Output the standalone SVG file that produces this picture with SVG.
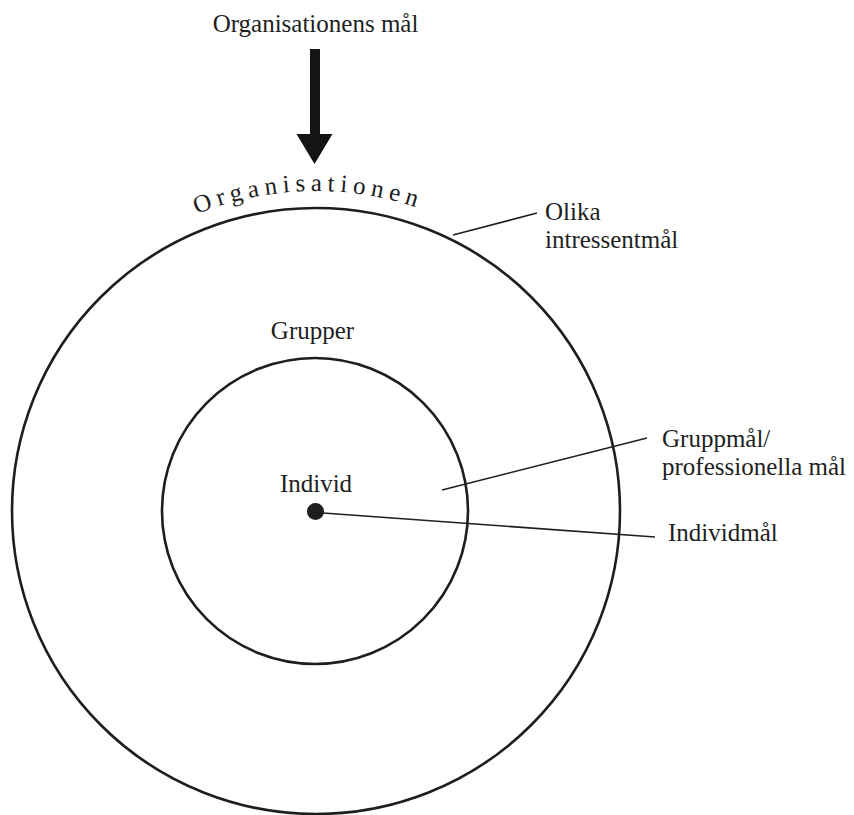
<svg xmlns="http://www.w3.org/2000/svg" width="854" height="815" viewBox="0 0 854 815">
  <defs>
    <style>
      .lbl { font-family: "Liberation Serif", "Times New Roman", serif; font-size: 25px; fill: #1e1e1e; }
      .ring { fill: none; stroke: #1e1e1e; stroke-width: 2.6; }
      .lead { fill: none; stroke: #1e1e1e; stroke-width: 1.6; }
    </style>
    <path id="orgArc" d="M -4 511 A 320 320 0 0 1 636 511"/>
  </defs>
  <rect width="854" height="815" fill="#ffffff"/>

  <g id="title">
    <text class="lbl" x="315.5" y="32" text-anchor="middle" font-size="26">Organisationens mål</text>
  </g>

  <g id="arrow">
    <polygon points="310,49 320,49 320,134 332.5,134 314.5,164 296.5,134 310,134" fill="#141414"/>
  </g>

  <g id="organisationen">
    <ellipse class="ring" cx="316" cy="511" rx="304" ry="303"/>
    <text class="lbl" font-size="23" letter-spacing="5.5"><textPath href="#orgArc" startOffset="380">Organisationen</textPath></text>
  </g>

  <g id="grupper">
    <circle class="ring" cx="315" cy="511" r="153"/>
    <text class="lbl" x="312.5" y="339" text-anchor="middle" font-size="26.5">Grupper</text>
  </g>

  <g id="individ">
    <circle cx="315.5" cy="511.5" r="8.5" fill="#1e1e1e"/>
    <text class="lbl" x="316" y="492" text-anchor="middle">Individ</text>
  </g>

  <g id="connectors">
    <line class="lead" x1="453" y1="235" x2="537" y2="213"/>
    <line class="lead" x1="442" y1="490" x2="647" y2="438"/>
    <line class="lead" x1="323" y1="513" x2="655" y2="537"/>
  </g>

  <g id="olika-intressentmal">
    <text class="lbl" x="545" y="220">Olika</text>
    <text class="lbl" x="545" y="248">intressentmål</text>
  </g>

  <g id="gruppmal">
    <text class="lbl" x="662" y="447">Gruppmål/</text>
    <text class="lbl" x="662" y="475">professionella mål</text>
  </g>

  <g id="individmal">
    <text class="lbl" x="668" y="541">Individmål</text>
  </g>
</svg>
